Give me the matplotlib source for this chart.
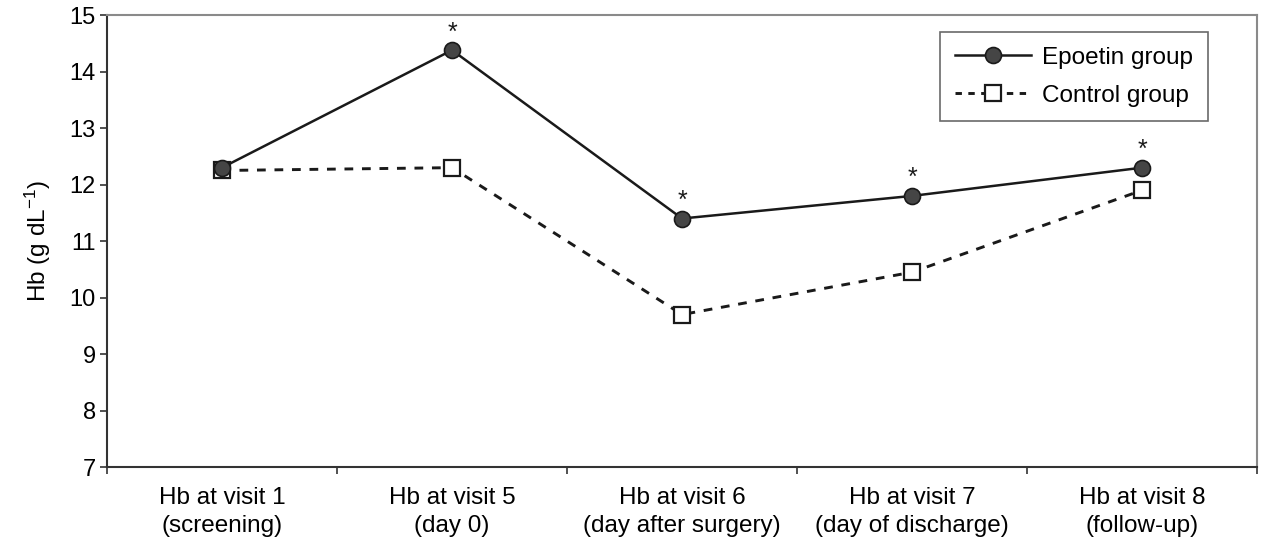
import matplotlib
matplotlib.use("Agg")
import matplotlib.pyplot as plt
from matplotlib.lines import Line2D

plt.rcParams['font.family'] = ['Liberation Sans', 'DejaVu Sans']
plt.rcParams['mathtext.fontset'] = 'custom'
plt.rcParams['mathtext.rm'] = 'Liberation Sans'
plt.rcParams['mathtext.it'] = 'Liberation Sans'
plt.rcParams['mathtext.bf'] = 'Liberation Sans:bold'

categories = ["Hb at visit 1\n(screening)", "Hb at visit 5\n(day 0)",
              "Hb at visit 6\n(day after surgery)", "Hb at visit 7\n(day of discharge)",
              "Hb at visit 8\n(follow-up)"]
epoetin = [12.3, 14.38, 11.4, 11.8, 12.3]
control = [12.25, 12.3, 9.7, 10.45, 11.9]
significant = [False, True, True, True, True]
yticks = [7, 8, 9, 10, 11, 12, 13, 14, 15]

fig = plt.figure(figsize=(12.66, 5.4), dpi=100)
ax = fig.add_axes([0.0845, 0.135, 0.9085, 0.837])

dash = (0, (3.0, 3.0))
x = list(range(len(categories)))
ax.plot(x, control, linestyle=dash, color='#1a1a1a', linewidth=2.1,
        marker='s', markersize=11, markerfacecolor='white', markeredgecolor='#1a1a1a',
        markeredgewidth=1.6, zorder=3)
ax.plot(x, epoetin, linestyle='-', color='#1a1a1a', linewidth=1.8,
        marker='o', markersize=11.5, markerfacecolor='#454545', markeredgecolor='#1a1a1a',
        markeredgewidth=1.2, zorder=4)

for xi, yi, s in zip(x, epoetin, significant):
    if s:
        ax.annotate('*', (xi, yi), xytext=(0, 4), textcoords='offset points',
                    ha='center', va='bottom', fontsize=18, color='#1a1a1a')

ax.set_xlim(-0.5, len(categories) - 0.5)
ax.set_ylim(7, 15)
ax.set_yticks(yticks)
ax.set_yticklabels([str(t) for t in yticks], fontsize=17)
ax.set_xticks(x)
ax.set_xticklabels(categories, fontsize=17.5, linespacing=1.4)
ax.tick_params(axis='x', length=0, pad=14)
ax.set_xticks([i - 0.5 for i in range(len(categories) + 1)], minor=True)
ax.tick_params(axis='x', which='minor', length=5, width=1.2, direction='out', color='#333333')
ax.tick_params(axis='y', length=5, width=1.2, direction='out', color='#333333', pad=3)

ax.set_ylabel(r'Hb (g dL$^{-1}$)', fontsize=17.5, labelpad=12)

for side in ['left', 'bottom']:
    ax.spines[side].set_color('#333333')
    ax.spines[side].set_linewidth(1.5)
for side in ['top', 'right']:
    ax.spines[side].set_color('#8a8a8a')
    ax.spines[side].set_linewidth(1.5)

handles = [
    Line2D([], [], linestyle='-', color='#1a1a1a', linewidth=1.8, marker='o', markersize=11.5,
           markerfacecolor='#454545', markeredgecolor='#1a1a1a', markeredgewidth=1.2),
    Line2D([], [], linestyle=(0, (2.2, 2.2)), color='#1a1a1a', linewidth=2.1, marker='s',
           markersize=11, markerfacecolor='white', markeredgecolor='#1a1a1a', markeredgewidth=1.6),
]
leg = ax.legend(handles, ['Epoetin group', 'Control group'], loc='upper right',
                bbox_to_anchor=(0.957, 0.962), fontsize=17.5, frameon=True, fancybox=False,
                edgecolor='#444444', handlelength=3.15, handletextpad=0.45,
                borderpad=0.6, labelspacing=0.65, borderaxespad=0)
leg.get_frame().set_linewidth(1.2)

fig.savefig('out.png', dpi=100)
